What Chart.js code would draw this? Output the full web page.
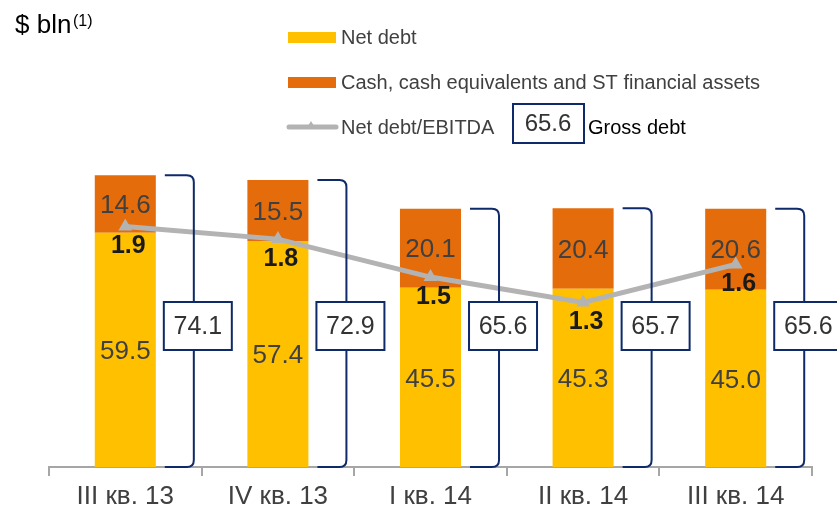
<!DOCTYPE html>
<html>
<head>
<meta charset="utf-8">
<script src="https://cdn.jsdelivr.net/npm/chart.js@4"></script>
<style>
  body { margin: 0; background: #fff; }
  #chartCanvas { display: block; }
</style>
</head>
<body>
<canvas id="chartCanvas" width="837" height="512"></canvas>
<script>
const categories = ['III кв. 13', 'IV кв. 13', 'I кв. 14', 'II кв. 14', 'III кв. 14'];
const netDebt = [59.5, 57.4, 45.5, 45.3, 45.0];
const cashAssets = [14.6, 15.5, 20.1, 20.4, 20.6];
const netDebtToEbitda = [1.9, 1.8, 1.5, 1.3, 1.6];
const grossDebt = [74.1, 72.9, 65.6, 65.7, 65.6];

const YELLOW = '#FFC000';
const ORANGE = '#E46C0A';
const GREY = '#B3B3B3';
const NAVY = '#0F2A6B';
const TEXT = '#404040';

function bracket(ctx, x0, x1, top, bottom) {
    const r = 7;
    ctx.beginPath();
    ctx.moveTo(x0, top);
    ctx.lineTo(x1 - r, top);
    ctx.quadraticCurveTo(x1, top, x1, top + r);
    ctx.lineTo(x1, bottom - r);
    ctx.quadraticCurveTo(x1, bottom, x1 - r, bottom);
    ctx.lineTo(x0, bottom);
    ctx.stroke();
}

function valueBox(ctx, cx, cy, text) {
    ctx.fillStyle = '#fff';
    ctx.fillRect(cx - 34, cy - 24, 68, 48);
    ctx.strokeStyle = NAVY;
    ctx.lineWidth = 2;
    ctx.strokeRect(cx - 34, cy - 24, 68, 48);
    ctx.fillStyle = '#333';
    ctx.font = '25px Arial, "Liberation Sans"';
    ctx.textAlign = 'center';
    ctx.textBaseline = 'middle';
    ctx.fillText(text, cx, cy + 1);
}

const overlay = {
    id: 'overlay',
    afterDatasetDraw(chart, args) {
        if (args.meta.type !== 'bar') return;
        const ctx = chart.ctx;
        const values = chart.data.datasets[args.index].data;
        ctx.save();
        ctx.fillStyle = TEXT;
        ctx.font = '26px Arial, "Liberation Sans"';
        ctx.textAlign = 'center';
        ctx.textBaseline = 'middle';
        args.meta.data.forEach((bar, i) => {
            const p = bar.getProps(['x', 'y', 'base'], true);
            ctx.fillText(values[i].toFixed(1), p.x, (p.y + p.base) / 2 + 2);
        });
        ctx.restore();
    },
    afterDatasetsDraw(chart) {
        const ctx = chart.ctx;
        const y = chart.scales.y;
        const bars = chart.getDatasetMeta(0).data;
        ctx.save();

        // gross debt brackets and boxes
        bars.forEach((bar, i) => {
            const p = bar.getProps(['x', 'width'], true);
            const right = p.x + p.width / 2;
            const top = y.getPixelForValue(grossDebt[i]);
            const bottom = y.getPixelForValue(0);
            ctx.strokeStyle = NAVY;
            ctx.lineWidth = 2;
            bracket(ctx, right + 9, right + 38, top, bottom);
            valueBox(ctx, right + 42, 326, grossDebt[i].toFixed(1));
        });

        // net debt / EBITDA labels
        const pts = chart.getDatasetMeta(2).data;
        ctx.fillStyle = '#1A1A1A';
        ctx.font = 'bold 25px Arial, "Liberation Sans"';
        ctx.textAlign = 'center';
        ctx.textBaseline = 'middle';
        pts.forEach((pt, i) => {
            ctx.fillText(netDebtToEbitda[i].toFixed(1), pt.x + 3, pt.y + 20);
        });

        // title
        ctx.fillStyle = '#000';
        ctx.textAlign = 'left';
        ctx.textBaseline = 'alphabetic';
        ctx.font = '26px Arial, "Liberation Sans"';
        ctx.fillText('$ bln', 15, 33);
        ctx.font = '16px Arial, "Liberation Sans"';
        ctx.fillText('(1)', 73, 26);

        // legend
        ctx.textBaseline = 'middle';
        ctx.font = '20px Arial, "Liberation Sans"';
        ctx.fillStyle = YELLOW;
        ctx.fillRect(288, 32, 48, 11);
        ctx.fillStyle = TEXT;
        ctx.fillText('Net debt', 341, 38);
        ctx.fillStyle = ORANGE;
        ctx.fillRect(288, 77, 48, 11);
        ctx.fillStyle = TEXT;
        ctx.fillText('Cash, cash equivalents and ST financial assets', 341, 83);
        ctx.strokeStyle = GREY;
        ctx.lineWidth = 5;
        ctx.lineCap = 'round';
        ctx.beginPath();
        ctx.moveTo(289, 127);
        ctx.lineTo(336, 127);
        ctx.stroke();
        ctx.fillStyle = GREY;
        ctx.beginPath();
        ctx.moveTo(306, 129);
        ctx.lineTo(316, 129);
        ctx.lineTo(311, 121);
        ctx.closePath();
        ctx.fill();
        ctx.fillStyle = TEXT;
        ctx.fillText('Net debt/EBITDA', 341, 128);
        ctx.strokeStyle = NAVY;
        ctx.lineWidth = 2;
        ctx.strokeRect(513, 104, 71, 39);
        ctx.fillStyle = '#333';
        ctx.textAlign = 'center';
        ctx.font = '24px Arial, "Liberation Sans"';
        ctx.fillText(grossDebt[2].toFixed(1), 548, 124);
        ctx.textAlign = 'left';
        ctx.fillStyle = '#000';
        ctx.font = '20px Arial, "Liberation Sans"';
        ctx.fillText('Gross debt', 588, 128);

        ctx.restore();
    }
};

const ctx = document.getElementById('chartCanvas').getContext('2d');
const chart = new Chart(ctx, {
    type: 'bar',
    data: {
        labels: categories,
        datasets: [{
            label: 'Net debt',
            data: netDebt,
            backgroundColor: YELLOW,
            stack: 'debt',
            order: 1
        }, {
            label: 'Cash, cash equivalents and ST financial assets',
            data: cashAssets,
            backgroundColor: ORANGE,
            stack: 'debt',
            order: 1
        }, {
            type: 'line',
            label: 'Net debt/EBITDA',
            data: netDebtToEbitda,
            yAxisID: 'y1',
            borderColor: GREY,
            backgroundColor: GREY,
            borderWidth: 5,
            pointStyle: 'triangle',
            pointRadius: 8,
            pointBorderWidth: 0,
            tension: 0,
            order: 0
        }]
    },
    options: {
        responsive: false,
        animation: false,
        devicePixelRatio: 1,
        layout: {
            padding: { left: 49, right: 25, top: 152, bottom: -6 }
        },
        datasets: {
            bar: {
                categoryPercentage: 1,
                barPercentage: 0.4
            }
        },
        plugins: {
            legend: { display: false },
            tooltip: { enabled: false }
        },
        scales: {
            x: {
                stacked: true,
                grid: {
                    drawOnChartArea: false,
                    color: '#A6A6A6',
                    lineWidth: 2,
                    tickLength: 9
                },
                border: { color: '#A6A6A6', width: 2 },
                ticks: {
                    color: TEXT,
                    padding: 8,
                    font: { family: '"Liberation Sans Narrow", "Arial Narrow", Arial', size: 26, lineHeight: 1 }
                }
            },
            y: {
                stacked: true,
                display: false,
                min: 0,
                max: 80
            },
            y1: {
                display: false,
                min: 0,
                max: 2.488
            }
        }
    },
    plugins: [overlay]
});
</script>
</body>
</html>
